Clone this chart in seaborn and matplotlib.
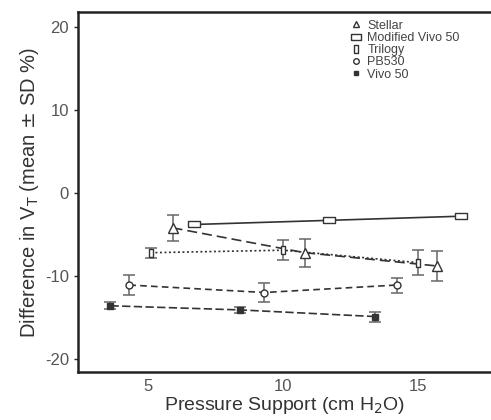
import numpy as np
import pandas as pd
import matplotlib
matplotlib.use("Agg")
import matplotlib.pyplot as plt
from matplotlib.lines import Line2D
import seaborn as sns

# Data
devices = ["Stellar", "Modified Vivo 50", "Trilogy", "PB530", "Vivo 50"]
stellar_x = [5.9, 10.8, 15.7]
stellar_y = [-4.2, -7.2, -8.8]
stellar_sd = [1.6, 1.7, 1.8]
mvivo_x = [6.7, 11.7, 16.6]
mvivo_y = [-3.8, -3.3, -2.8]
mvivo_sd = [0.3, 0.3, 0.3]
trilogy_x = [5.1, 10.0, 15.0]
trilogy_y = [-7.2, -6.9, -8.4]
trilogy_sd = [0.6, 1.2, 1.5]
pb530_x = [4.3, 9.3, 14.2]
pb530_y = [-11.1, -12.0, -11.1]
pb530_sd = [1.2, 1.1, 0.9]
vivo_x = [3.6, 8.4, 13.4]
vivo_y = [-13.6, -14.1, -14.9]
vivo_sd = [0.4, 0.4, 0.6]

xs = [stellar_x, mvivo_x, trilogy_x, pb530_x, vivo_x]
ys = [stellar_y, mvivo_y, trilogy_y, pb530_y, vivo_y]
sds = [stellar_sd, mvivo_sd, trilogy_sd, pb530_sd, vivo_sd]

df = pd.DataFrame({
    "device": np.repeat(devices, 3),
    "pressure": np.concatenate(xs),
    "diff": np.concatenate(ys),
    "sd": np.concatenate(sds),
})

sns.set_style("ticks")
plt.rcParams["font.family"] = ["Liberation Sans", "DejaVu Sans"]
plt.rcParams["axes.unicode_minus"] = False

# rectangle markers (wide and tall)
hrect = [(-1.0, -0.55), (1.0, -0.55), (1.0, 0.55), (-1.0, 0.55), (-1.0, -0.55)]
vrect = [(-0.45, -1.0), (0.45, -1.0), (0.45, 1.0), (-0.45, 1.0), (-0.45, -1.0)]

dashes = {"Stellar": (6, 3), "Modified Vivo 50": "", "Trilogy": (1.2, 1.5),
          "PB530": (4, 2.5), "Vivo 50": (5, 2)}
line_c = "#333333"

fig = plt.figure(figsize=(4.91, 4.2), dpi=100)
ax = fig.add_axes([0.159, 0.114, 0.841, 0.857])

sns.lineplot(data=df, x="pressure", y="diff", hue="device", style="device",
             palette=[line_c] * 5, dashes=dashes, markers=False, lw=1.2,
             legend=False, ax=ax, sort=True)

mk = {"Stellar": ("^", 7, "white"), "Modified Vivo 50": (hrect, 9, "white"),
      "Trilogy": (vrect, 6, "white"), "PB530": ("o", 5, "white"),
      "Vivo 50": ("s", 4, line_c)}
for name, g in df.groupby("device"):
    ax.errorbar(g["pressure"], g["diff"], yerr=g["sd"], fmt="none",
                ecolor="#666666", elinewidth=1.1, capsize=4, capthick=1.1)
    m, s, fc = mk[name]
    ax.plot(g["pressure"], g["diff"], ls="none", marker=m, ms=s,
            mfc=fc, mec=line_c, mew=1.0, zorder=5)

ax.set_xlim(2.4, 17.7)
ax.set_ylim(-21.6, 21.8)
ax.set_xticks([5, 10, 15])
ax.set_yticks([-20, -10, 0, 10, 20])
ax.tick_params(labelsize=12, labelcolor="#555555", length=3, width=1)
ax.tick_params(axis="x", length=0, pad=5)

ax.set_xlabel("Pressure Support (cm H$_2$O)", fontsize=14, color="#333333",
              labelpad=1)
ax.set_ylabel("Difference in V$_\\mathrm{T}$ (mean $\\pm$ SD %)", fontsize=14.5,
              color="#333333", labelpad=3)

for side in ["left", "bottom", "top"]:
    ax.spines[side].set_linewidth(1.8)
    ax.spines[side].set_color("#222222")
ax.spines["right"].set_visible(False)

handles = [
    Line2D([], [], ls="none", marker="^", ms=5, mfc="white", mec=line_c),
    Line2D([], [], ls="none", marker=hrect, ms=7, mfc="white", mec=line_c),
    Line2D([], [], ls="none", marker=vrect, ms=6, mfc="white", mec=line_c),
    Line2D([], [], ls="none", marker="o", ms=4, mfc="white", mec=line_c),
    Line2D([], [], ls="none", marker="s", ms=2.5, mfc=line_c, mec=line_c),
]
leg = ax.legend(handles, devices, loc="upper left", bbox_to_anchor=(0.64, 1.0),
                frameon=False, fontsize=9, handlelength=1, handletextpad=0.4,
                labelspacing=0.02, borderaxespad=0.2)
for t in leg.get_texts():
    t.set_color("#444444")

fig.savefig("out.png", dpi=100)
